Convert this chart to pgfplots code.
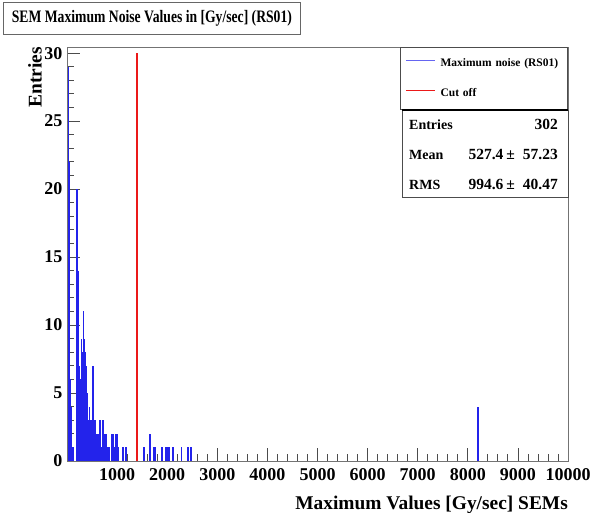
\documentclass[border=0pt]{standalone}
\usepackage{fontspec}
\setmainfont{Liberation Serif}
\usepackage{pgfplots}
\usepackage{pgfplotstable}
\pgfplotsset{compat=1.18}
\definecolor{histblue}{RGB}{35,35,235}
\definecolor{cutred}{RGB}{235,25,25}
\pgfplotstableread{
x y
25 29
45 22
60 6
75 4
90 2
110 1
125 1
200 20
215 14
225 6
240 6
250 7
260 5
270 6
285 9
300 6
310 8
325 11
340 9
350 5
365 8
380 7
395 3
410 5
425 3
445 4
460 3
480 2
495 3
515 7
530 4
545 3
560 3
575 2
600 1
620 2
640 1
655 3
670 2
690 1
705 2
720 3
735 2
750 1
775 2
790 2
820 1
850 1
885 1
900 2
920 2
945 1
980 2
995 2
1030 1
1115 1
1180 1
1530 1
1545 1
1660 2
1730 1
1755 1
1890 1
1905 1
1980 1
2000 1
2030 1
2050 1
2120 1
2290 1
2420 1
2480 1
8200 4
}\histdata
\begin{document}
\begin{tikzpicture}[x=1pt,y=1pt]
\useasboundingbox (0,0) rectangle (592,513);
\fill[white] (0,0) rectangle (592,513);
\node[draw=black!60, line width=0.8pt, fill=white, minimum width=297pt, minimum height=32pt, anchor=south west, inner sep=0pt] at (3,478) {\scalebox{0.78}[1]{\bfseries\fontsize{17.5}{20}\selectfont SEM Maximum Noise Values in [Gy/sec] (RS01)}};
\begin{axis}[
  at={(67pt,52pt)}, anchor=south west, scale only axis,
  width=501pt, height=414pt,
  xmin=0, xmax=10000, ymin=0, ymax=30.45,
  axis line style={black!55, line width=0.8pt},
  xtick={0,1000,...,10000},
  xticklabels={,1000,2000,3000,4000,5000,6000,7000,8000,9000,10000},
  ytick={0,5,...,30},
  minor x tick num=4, minor y tick num=4,
  tick align=inside, tick pos=left,
  major tick length=13pt, minor tick length=7pt,
  tick style={black!70, line width=0.8pt},
  ticklabel style={font=\bfseries\fontsize{18}{20}\selectfont},
  /pgf/number format/assume math mode=true,
  scaled x ticks=false,
  yticklabel style={xshift=-1pt},
  xticklabel style={yshift=-4pt},
  ylabel={Entries},
  ylabel style={font=\bfseries\fontsize{19.4}{21}\selectfont, inner sep=0pt, at={(axis description cs:-0.05,1)}, anchor=south east},
  xlabel={Maximum Values [Gy/sec] SEMs},
  xlabel style={font=\bfseries\fontsize{19.4}{21}\selectfont, inner sep=0pt, at={(axis description cs:1,-0.083)}, anchor=north east},
  legend cell align=left,
  legend style={at={(rel axis cs:1,1)}, anchor=north east, draw=black!70, line width=0.8pt, fill=white,
    font=\bfseries\fontsize{11.5}{13}\selectfont, inner xsep=5pt, inner ysep=11pt, row sep=20pt,
    nodes={inner sep=0pt, text width=122pt, text height=8pt, text depth=2pt, align=left},
    /tikz/every odd column/.append style={column sep=5pt}},
]
\addplot[ycomb, color=histblue, line width=1.5pt,
  legend image code/.code={\draw[histblue!70!white, line width=1.2pt] (0pt,3pt) -- (29pt,3pt);}]
  table[x=x, y=y] {\histdata};
\addlegendentry{Maximum noise (RS01)}
\addplot[ycomb, color=cutred, line width=1.3pt,
  legend image code/.code={\draw[cutred, line width=1.3pt] (0pt,3pt) -- (29pt,3pt);}]
  coordinates {(1400,30)};
\addlegendentry{Cut off}
\end{axis}
\draw[black!70, line width=0.8pt, fill=white] (402,316) rectangle (568,403);
\draw[black, line width=1.2pt] (402,403) -- (568,403);
\begin{scope}[every node/.style={font=\bfseries\fontsize{14}{16}\selectfont, inner sep=0pt}]
\node[anchor=base west] at (409,383.5) {Entries};
\node[anchor=base east] at (558,383.5) {\fontsize{15.5}{17}\selectfont 302};
\node[anchor=base west] at (409,353.5) {Mean};
\node[anchor=base east] at (558,353.5) {\fontsize{15.5}{17}\selectfont 527.4\hspace{3pt}±\hspace{8pt}57.23};
\node[anchor=base west] at (409,323.5) {RMS};
\node[anchor=base east] at (558,323.5) {\fontsize{15.5}{17}\selectfont 994.6\hspace{3pt}±\hspace{8pt}40.47};
\end{scope}
\end{tikzpicture}
\end{document}
